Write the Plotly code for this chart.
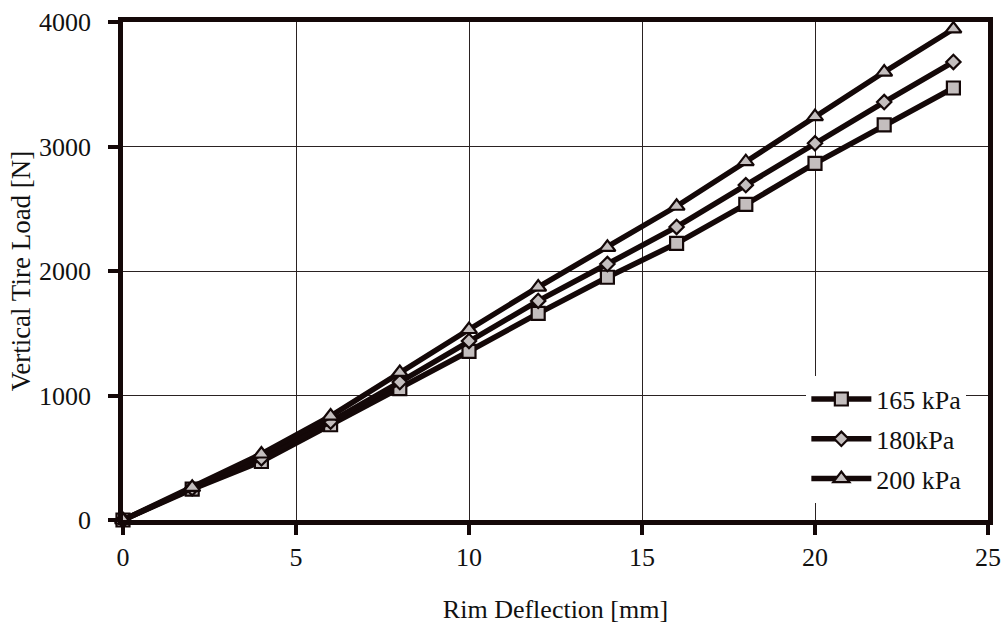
import plotly.graph_objects as go

# Rim deflection [mm] and vertical tire load [N] for three inflation pressures
deflection = [0, 2, 4, 6, 8, 10, 12, 14, 16, 18, 20, 22, 24]
load_165 = [0, 248, 470, 765, 1055, 1355, 1660, 1950, 2222, 2535, 2865, 3173, 3470]
load_180 = [0, 255, 495, 790, 1108, 1438, 1760, 2056, 2354, 2690, 3026, 3357, 3679]
load_200 = [0, 262, 530, 835, 1185, 1530, 1871, 2190, 2520, 2878, 3240, 3598, 3944]
series_names = ["165 kPa", "180kPa", "200 kPa"]

x_ticks = [0, 5, 10, 15, 20, 25]
y_ticks = [0, 1000, 2000, 3000, 4000]

FONT = "Liberation Serif"
INK = "#140808"
FILL = "#c4bebe"

series = [
    (series_names[0], load_165, "square", 13),
    (series_names[1], load_180, "diamond", 11),
    (series_names[2], load_200, "triangle-up", 14),
]

fig = go.Figure()
for i, (name, values, symbol, size) in enumerate(series):
    fig.add_trace(go.Scatter(
        x=deflection, y=values, name=name, mode="lines+markers",
        legendgroup=f"g{i}",
        line=dict(color=INK, width=5.5),
        marker=dict(symbol=symbol, size=size, color=FILL,
                    line=dict(color=INK, width=2.2)),
        cliponaxis=False,
    ))

axis_common = dict(
    showline=True, mirror=True, linecolor=INK, linewidth=4.5,
    showgrid=True, gridcolor="#2a2222", gridwidth=1,
    zeroline=False, automargin=False,
    ticks="outside", ticklen=10, tickwidth=4, tickcolor=INK,
    tickfont=dict(family=FONT, size=26, color="#111"),
)

fig.update_layout(
    width=1005, height=627,
    margin=dict(l=123, r=17, t=22, b=107),
    paper_bgcolor="white", plot_bgcolor="rgba(0,0,0,0)",
    showlegend=True,
    legend=dict(
        x=0.79, y=0.29, xanchor="left", yanchor="top",
        bgcolor="white", borderwidth=0,
        font=dict(family=FONT, size=26, color="#111"),
        tracegroupgap=3, itemwidth=60,
    ),
    xaxis=dict(range=[0, 25], tickvals=x_ticks, ticklabelstandoff=0,
               title=dict(text="Rim Deflection [mm]", standoff=30,
                          font=dict(family=FONT, size=26, color="#111")),
               **axis_common),
    yaxis=dict(range=[0, 4000], tickvals=y_ticks, ticklabelstandoff=12,
               title=dict(text="Vertical Tire Load [N]", standoff=2,
                          font=dict(family=FONT, size=27, color="#111")),
               **axis_common),
)

fig.write_html("out.html")
